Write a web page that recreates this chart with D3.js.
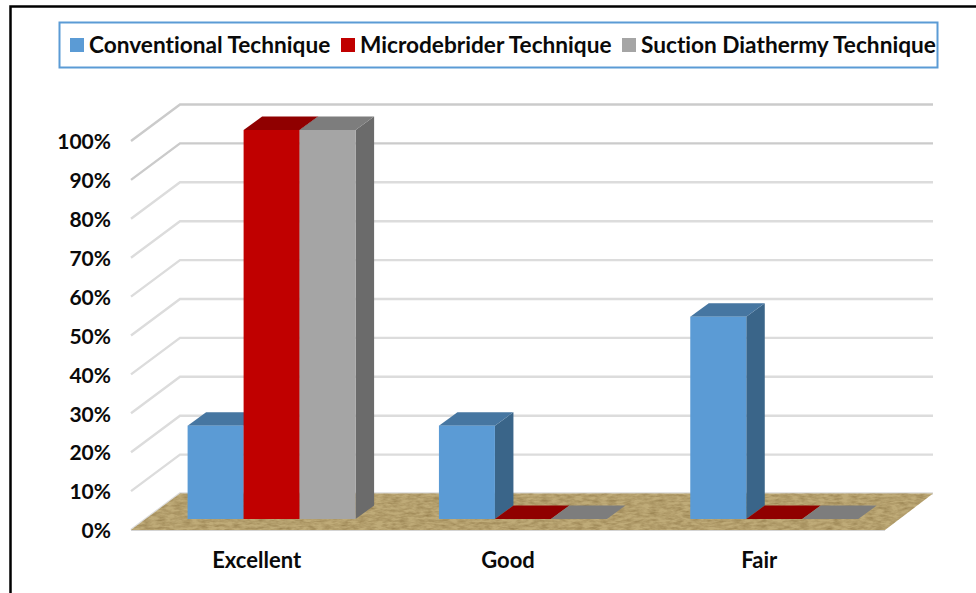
<!DOCTYPE html>
<html><head><meta charset="utf-8">
<script src="https://cdnjs.cloudflare.com/ajax/libs/d3/7.8.5/d3.min.js"></script>
<style>
html,body{margin:0;padding:0;background:#fff;overflow:hidden}
svg{display:block}
text{font-family:Lato,"Open Sans",sans-serif;font-weight:700;fill:#0a0a0a;font-variant-ligatures:none}
</style></head><body>
<svg id="c" width="976" height="593"></svg>
<script>
const categories = ["Excellent", "Good", "Fair"];
const seriesNames = ["Conventional Technique", "Microdebrider Technique", "Suction Diathermy Technique"];
const conventional = [24, 24, 52];
const microdebrider = [100, 0, 0];
const suction = [100, 0, 0];
const yTicks = [0, 10, 20, 30, 40, 50, 60, 70, 80, 90, 100];
const frontColors = ["#5b9bd5", "#c00000", "#a5a5a5"];
const topColors = ["#4676a1", "#900000", "#7d7d7d"];
const sideColors = ["#3a6589", "#7a0000", "#6b6b6b"];

const svg = d3.select("#c");
const defs = svg.append("defs");
const f = defs.append("filter").attr("id", "burlap").attr("x", 0).attr("y", 0).attr("width", 1).attr("height", 1)
  .attr("color-interpolation-filters", "sRGB");
f.append("feTurbulence").attr("type", "fractalNoise").attr("baseFrequency", "0.12 0.4").attr("numOctaves", 3).attr("seed", 4).attr("result", "n");
f.append("feColorMatrix").attr("in", "n").attr("type", "matrix")
  .attr("values", "0 0 0 0 0.58  0 0 0 0 0.49  0 0 0 0 0.30  1.4 0 0 0 -0.45").attr("result", "m");
f.append("feGaussianBlur").attr("in", "m").attr("stdDeviation", 0.5).attr("result", "b");
f.append("feComposite").attr("in", "b").attr("in2", "SourceGraphic").attr("operator", "in").attr("result", "c");
const fm = f.append("feMerge");
fm.append("feMergeNode").attr("in", "SourceGraphic");
fm.append("feMergeNode").attr("in", "c");
defs.append("filter").attr("id", "soft").attr("filterUnits", "userSpaceOnUse")
  .attr("x", 0).attr("y", 0).attr("width", 976).attr("height", 593)
  .append("feGaussianBlur").attr("stdDeviation", 0.4);

// outer frame
svg.append("path").attr("d", "M10.5,593V6.5H976").attr("fill", "none").attr("stroke", "#000").attr("stroke-width", 2.5);

// 3D projection parameters
const wallX0 = 131, wallX1 = 885, depthX = 49, depthY = 36.5;
const y = d3.scaleLinear().domain([0, 100]).range([530, 141]);
const x0 = d3.scaleBand().domain(categories).range([wallX0, wallX1]);
const barW = 56, barDX = 18.5, barDY = 13.5, barInsetY = 11, barShift = 56.6;
const barBase = d => y(d) - barInsetY;

// gridlines
const grid = svg.append("g").attr("fill", "none").attr("stroke-width", 2.4).attr("filter", "url(#soft)");
grid.selectAll("path").data(yTicks).enter().append("path")
  .attr("stroke", d => d >= 90 ? "#cbcbcb" : "#dcdcdc")
  .attr("d", d => `M${wallX0},${y(d)}L${wallX0 + depthX},${y(d) - depthY}H${wallX1 + depthX - 1}`);

// floor
const floorPts = [[wallX0, y(0)], [wallX0 + depthX, y(0) - depthY], [wallX1 + depthX - 1, y(0) - depthY], [wallX1, y(0)]];
svg.append("path").attr("d", "M" + floorPts[0] + "H" + wallX1).attr("stroke", "#d4d4d4").attr("stroke-width", 2).attr("fill", "none");
svg.append("polygon").attr("points", floorPts.join(" ")).attr("fill", "#bfab78").attr("filter", "url(#burlap)");

// bars
const rows = categories.map((c, i) => ({c, vals: [conventional[i], microdebrider[i], suction[i]]}));
const cat = svg.append("g").selectAll("g").data(rows).enter().append("g");
cat.each(function (r) {
  const g = d3.select(this);
  r.vals.forEach((v, s) => {
    const xl = x0(r.c) + barShift + s * barW, xr = xl + barW, yb = barBase(0), yt = barBase(v);
    g.append("polygon").attr("fill", sideColors[s])
      .attr("points", [[xr, yb], [xr + barDX, yb - barDY], [xr + barDX, yt - barDY], [xr, yt]].join(" "));
    g.append("polygon").attr("fill", topColors[s])
      .attr("points", [[xl, yt], [xl + barDX, yt - barDY], [xr + barDX, yt - barDY], [xr, yt]].join(" "));
    g.append("rect").attr("x", xl).attr("y", yt).attr("width", barW).attr("height", yb - yt).attr("fill", frontColors[s]);
  });
});

// axes
const yAxis = svg.append("g").attr("transform", `translate(${wallX0 - 20},1)`)
  .call(d3.axisLeft(y).tickValues(yTicks).tickSize(0).tickFormat(d => d + "%"));
yAxis.attr("font-family", null).attr("font-size", null);
yAxis.select(".domain").remove();
yAxis.selectAll("text").attr("font-size", 21).attr("x", 0).attr("dy", "0.32em");

const xAxis = svg.append("g").attr("transform", `translate(0,${y(0) + 22})`)
  .call(d3.axisBottom(x0).tickSize(0).tickPadding(0));
xAxis.attr("font-family", null).attr("font-size", null);
xAxis.select(".domain").remove();
xAxis.selectAll("text").attr("font-size", 22).attr("dy", "0.71em");

// legend
svg.append("rect").attr("x", 59.5).attr("y", 22.5).attr("width", 878).attr("height", 45).attr("fill", "#fff").attr("stroke", "#5b9bd5").attr("stroke-width", 2);
const legX = [70, 341, 622];
const leg = svg.append("g").selectAll("g").data(seriesNames).enter().append("g").attr("transform", (d, i) => `translate(${legX[i]},38)`);
leg.append("rect").attr("width", 14).attr("height", 14).attr("fill", (d, i) => frontColors[i]);
leg.append("text").attr("x", 19).attr("y", 14.5).attr("font-size", 22.65).text(d => d);
</script>
</body></html>
